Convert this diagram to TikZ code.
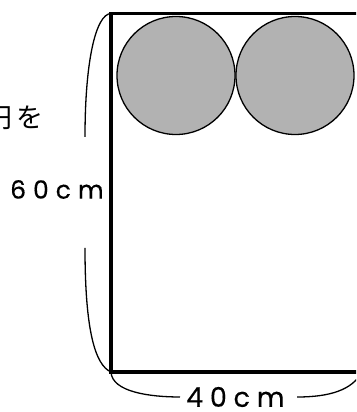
\documentclass[tikz,border=0pt]{standalone}
\usepackage{fontspec}
\setmainfont{Noto Sans CJK JP}
\newfontfamily\dimfontA[LetterSpace=28,FakeBold=0.4]{Poppins}
\newfontfamily\dimfontB[LetterSpace=25,FakeBold=0.4]{Poppins}
\newfontfamily\jpspaced[LetterSpace=17]{Noto Sans CJK JP}
\tikzset{
  frame/.style={line width=3.5pt, line join=miter},
  disk/.style={circle, draw, line width=1.3pt, fill=black!30, inner sep=0pt, minimum size=118pt},
  bracecurve/.style={line width=1.3pt},
  dimlabelv/.style={inner sep=0pt, font=\fontsize{25pt}{28pt}\selectfont\dimfontA},
  dimlabelh/.style={inner sep=0pt, font=\fontsize{27pt}{30pt}\selectfont\dimfontB},
  textlabel/.style={inner sep=0pt, font=\fontsize{27pt}{30pt}\selectfont\jpspaced}
}
\begin{document}
\begin{tikzpicture}[x=1pt,y=1pt]
\useasboundingbox (0,0) rectangle (356,412);
\clip (0,0) rectangle (356,412);
% rectangle corners
\coordinate (TL) at (111,398.5);
\coordinate (BL) at (111,40);
\coordinate (BR) at (358,40);
\coordinate (TR) at (358,398.5);
% circles
\node[disk] (c1) at (176,336.5) {};
\node[disk] (c2) at (295,336.5) {};
\draw[frame] (TR) -- (TL) -- (BL) -- (BR);
% labels
\node[textlabel, anchor=west] (txt) at (-15,294) {円を};
\node[dimlabelv, anchor=west] (h) at (10,222.5) {60cm};
\node[dimlabelh, anchor=west] (w) at (186,15) {40cm};
% brace ends
\coordinate (lb1) at (85,275);
\coordinate (lb2) at (85,164);
\coordinate (bb1) at (180,15);
\coordinate (bb2) at (297,15);
\coordinate (bb3) at (362,40);
% braces
\draw[bracecurve] (TL) .. controls (96,398) and (85,352) .. (lb1);
\draw[bracecurve] (lb2) .. controls (85,82) and (95,47) .. (BL);
\draw[bracecurve] (BL) .. controls (112,20) and (150,15) .. (bb1);
\draw[bracecurve] (bb2) .. controls (330,15) and (352,22) .. (bb3);
\end{tikzpicture}
\end{document}
